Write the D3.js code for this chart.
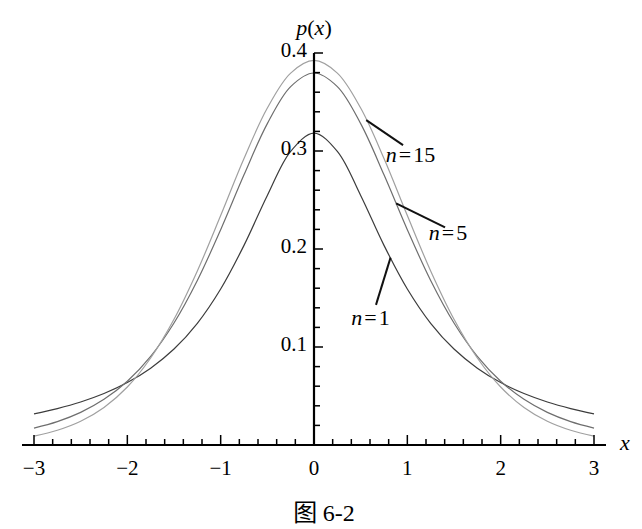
<!DOCTYPE html>
<html><head><meta charset="utf-8">
<script src="https://cdn.jsdelivr.net/npm/d3@7"></script>
<style>body{margin:0;background:#fff}svg{display:block}
.s{font-family:"Liberation Serif","DejaVu Serif","Times New Roman",serif}
.cjk{font-family:"Noto Sans CJK SC",sans-serif}</style>
</head><body>
<svg id="c" width="642" height="529"></svg>
<script>
// sample points (x) and densities
const xs = [-3,-2.75,-2.5,-2.25,-2,-1.75,-1.5,-1.25,-1,-0.75,-0.5,-0.25,0,0.25,0.5,0.75,1,1.25,1.5,1.75,2,2.25,2.5,2.75,3];
const n1 = [0.0318,0.0372,0.0439,0.0525,0.0637,0.0784,0.0979,0.1242,0.1592,0.2037,0.2546,0.2996,0.3183,0.2996,0.2546,0.2037,0.1592,0.1242,0.0979,0.0784,0.0637,0.0525,0.0439,0.0372,0.0318];
const n5 = [0.0173,0.0239,0.0333,0.0466,0.0651,0.0905,0.1245,0.1679,0.2197,0.2757,0.3279,0.3657,0.3796,0.3657,0.3279,0.2757,0.2197,0.1679,0.1245,0.0905,0.0651,0.0466,0.0333,0.0239,0.0173];
const n15 = [0.0091,0.0150,0.0242,0.0383,0.0592,0.0888,0.1283,0.1776,0.2341,0.2923,0.3438,0.3795,0.3924,0.3795,0.3438,0.2923,0.2341,0.1776,0.1283,0.0888,0.0592,0.0383,0.0242,0.0150,0.0091];
const seriesNames = ["n=1","n=5","n=15"];
const xTicks = [-3,-2,-1,0,1,2,3];
const yTicks = [0.1,0.2,0.3,0.4];
// annotation: curve x where leader starts, leader end (x,y), label start (x, baseline y) in data units
const leaderStartX = [0.82, 0.88, 0.56];
const leaderEnd = [[0.664,0.143],[1.404,0.222],[0.954,0.306]];
const labelAt = [[0.40,0.122],[1.23,0.209],[0.77,0.289]];

const svg = d3.select("#c");
const x = d3.scaleLinear().domain([-3,3]).range([34,594]);
const y = d3.scaleLinear().domain([0,0.4]).range([445,53]);

const series = [
  {name:seriesNames[0], vals:n1, color:"#3c3c3c"},
  {name:seriesNames[1], vals:n5, color:"#6e6e6e"},
  {name:seriesNames[2], vals:n15, color:"#a0a0a0"}
];
const line = d3.line().x((d,i)=>x(xs[i])).y(d=>y(d)).curve(d3.curveCatmullRom.alpha(0.5));
svg.append("g").selectAll("path").data(series).join("path")
  .attr("d", d=>line(d.vals)).attr("fill","none")
  .attr("stroke", d=>d.color).attr("stroke-width",1.2);

// x axis
const y0 = y(0);
svg.append("line").attr("x1",22).attr("x2",606).attr("y1",y0).attr("y2",y0).attr("stroke","#000").attr("stroke-width",2);
const minorX = d3.range(-3,3.0001,0.2);
svg.append("g").selectAll("line").data(minorX).join("line")
  .attr("x1",d=>x(d)).attr("x2",d=>x(d)).attr("y1",y0)
  .attr("y2",d=>Math.abs(d-Math.round(d))<1e-6 ? y0-10 : y0-6)
  .attr("stroke","#000").attr("stroke-width",1.5);
svg.append("g").selectAll("text").data(xTicks).join("text")
  .attr("class","s").attr("x",d=>x(d)).attr("y",y0+30).attr("text-anchor","middle")
  .attr("font-size",21)
  .text(d=>d<0?"\u2212"+(-d):d);
svg.append("text").attr("class","s").attr("x",625).attr("y",y0+5).attr("text-anchor","middle")
  .attr("font-style","italic").attr("font-size",22).text("x");

// y axis
const x0 = x(0);
svg.append("line").attr("x1",x0).attr("x2",x0).attr("y1",y0).attr("y2",y(0.4)).attr("stroke","#000").attr("stroke-width",2.2);
const minorY = d3.range(0.02,0.4001,0.02);
svg.append("g").selectAll("line").data(minorY).join("line")
  .attr("x1",x0).attr("y1",d=>y(d)).attr("y2",d=>y(d))
  .attr("x2",d=>Math.abs(d*10-Math.round(d*10))<1e-6 ? x0+9 : x0+6)
  .attr("stroke","#000").attr("stroke-width",1.5);
svg.append("g").selectAll("text").data(yTicks).join("text")
  .attr("class","s").attr("x",x0-7).attr("y",d=>y(d)+4).attr("text-anchor","end")
  .attr("font-size",21).text(d=>d.toFixed(1));
const pl = svg.append("text").attr("class","s").attr("x",x0).attr("y",y(0.4)-18).attr("text-anchor","middle")
  .attr("font-size",22);
pl.append("tspan").attr("font-style","italic").text("p");
pl.append("tspan").text("(");
pl.append("tspan").attr("font-style","italic").text("x");
pl.append("tspan").text(")");

// labels with leader lines
series.forEach((s,k)=>{
  const cx = leaderStartX[k];
  const idx = xs.indexOf(Math.floor(cx*4)/4);
  const t = (cx - xs[idx])/0.25;
  const cy = s.vals[idx]*(1-t)+s.vals[idx+1]*t;
  const [ex,ey] = leaderEnd[k];
  svg.append("line").attr("x1",x(cx)).attr("y1",y(cy))
    .attr("x2",x(ex)).attr("y2",y(ey))
    .attr("stroke","#111").attr("stroke-width",2);
  const parts = s.name.split("=");
  const [lx,ly] = labelAt[k];
  const tx = svg.append("text").attr("class","s").attr("x",x(lx)).attr("y",y(ly))
    .attr("font-size",22);
  tx.append("tspan").attr("font-style","italic").text(parts[0]);
  tx.append("tspan").attr("dx",2).text("=");
  tx.append("tspan").attr("dx",2).text(parts[1]);
});

// caption
const cap = svg.append("text").attr("x",324).attr("y",521).attr("text-anchor","middle").attr("font-size",24);
cap.append("tspan").attr("class","cjk").text("图 ");
cap.append("tspan").attr("class","s").text("6-2");
</script>
</body></html>
